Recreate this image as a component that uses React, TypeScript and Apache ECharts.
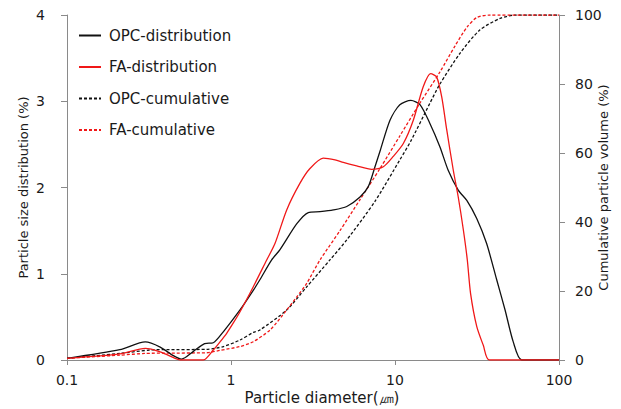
import React, { useEffect, useRef } from "react";
import * as echarts from "echarts";

// Particle diameters (µm) and readings for each curve
const opcDistD = [0.1, 0.21, 0.3, 0.37, 0.445, 0.5, 0.59, 0.69, 0.78, 0.9, 1.135, 1.37, 1.5, 1.77, 1.99, 2.52, 2.96, 3.49, 4.21, 5.08, 6.12, 6.87, 7.55, 8.1, 9.32, 10.7, 12.5, 14.2, 16.35, 18.8, 21.1, 24.3, 27.4, 31.5, 36.2, 41.7, 46.9, 52.6, 59.3, 100];
const opcDistV = [0.02, 0.12, 0.21, 0.15, 0.05, 0.01, 0.1, 0.19, 0.2, 0.33, 0.58, 0.81, 0.93, 1.16, 1.28, 1.58, 1.71, 1.72, 1.74, 1.78, 1.89, 2.01, 2.24, 2.42, 2.78, 2.96, 3.01, 2.96, 2.74, 2.47, 2.2, 1.97, 1.85, 1.64, 1.35, 0.93, 0.58, 0.21, 0, 0];

const faDistD = [0.1, 0.21, 0.3, 0.37, 0.456, 0.49, 0.678, 0.78, 0.857, 0.941, 1.033, 1.135, 1.368, 1.651, 1.854, 2.186, 2.635, 3.03, 3.65, 4.31, 4.84, 5.84, 7.21, 8.49, 9.76, 11.24, 12.93, 14.88, 16.5, 17.96, 19.27, 20.67, 22.67, 24.3, 26.1, 27.6, 28.9, 31.5, 34.55, 37.6, 100];
const faDistV = [0.02, 0.07, 0.135, 0.095, 0.02, 0, 0, 0.116, 0.21, 0.31, 0.43, 0.56, 0.85, 1.16, 1.35, 1.74, 2.05, 2.22, 2.34, 2.32, 2.29, 2.25, 2.21, 2.24, 2.36, 2.51, 2.78, 3.17, 3.32, 3.28, 3.05, 2.67, 2.2, 1.89, 1.51, 1.16, 0.77, 0.39, 0.17, 0, 0];

const opcCumD = [0.1, 0.21, 0.32, 0.39, 0.71, 0.9, 1.135, 1.368, 1.5, 2.186, 2.894, 4.01, 5.08, 7.55, 10.7, 12.5, 16.35, 18.8, 24.9, 33, 43.7, 53.9, 100];
const opcCumV = [0.5, 1.9, 2.9, 3.0, 3.1, 3.9, 5.8, 8.0, 8.7, 14.5, 21.2, 29, 34.8, 46, 58, 63.5, 74.5, 80, 88.9, 95.7, 99, 100, 100];

const faCumD = [0.1, 0.21, 0.3, 0.4, 0.71, 0.857, 1.135, 1.368, 1.73, 2.186, 2.52, 2.894, 3.49, 4.62, 6.12, 8.1, 10.72, 14.2, 18.8, 23.2, 27.5, 31.6, 37.9, 100];
const faCumV = [0.5, 1.4, 1.9, 2.0, 2.1, 2.8, 3.9, 5.3, 8.7, 14.5, 18.3, 22.2, 29, 37.5, 46.5, 55.5, 65, 74.5, 83.5, 91, 96.5, 99.3, 100, 100];

const seriesNames = ["OPC-distribution", "FA-distribution", "OPC-cumulative", "FA-cumulative"];
const xTicks = [0.1, 1, 10, 100];

const zip = (xs: number[], ys: number[]) => xs.map((x, i) => [x, ys[i]]);

export default function App() {
  const ref = useRef<HTMLDivElement>(null);

  useEffect(() => {
    const chart = echarts.init(ref.current!, null, { renderer: "svg" });
    const font = "DejaVu Sans";
    const axisColor = "#8a8a8a";
    const textColor = "#1a1a1a";
    const black = "#111111";
    const red = "#f01818";

    const lineSeries = (name: string, data: number[][], color: string, dashed: boolean, yIdx: number) => ({
      name,
      type: "line",
      data,
      yAxisIndex: yIdx,
      showSymbol: false,
      symbol: "none",
      smooth: 0.25,
      lineStyle: { color, width: 1.3, type: dashed ? [3, 2] : "solid" },
      itemStyle: { color },
      z: dashed ? 2 : 3,
    });

    chart.setOption({
      animation: false,
      textStyle: { fontFamily: font },
      grid: { left: 67, right: 62, top: 15, bottom: 49, outerBoundsMode: "none", containLabel: false },
      legend: {
        orient: "vertical",
        left: 78,
        top: 28,
        padding: 0,
        itemWidth: 22,
        itemHeight: 14,
        itemGap: 16.5,
        data: seriesNames,
        itemStyle: { opacity: 0 },
        textStyle: { fontFamily: font, fontSize: 15, color: textColor, padding: [0, 0, 0, 3] },
      },
      xAxis: {
        type: "log",
        logBase: 10,
        min: xTicks[0],
        max: xTicks[xTicks.length - 1],
        name: "Particle diameter(㎛)",
        nameLocation: "middle",
        nameGap: 30,
        nameMoveOverlap: false,
        nameTextStyle: { fontFamily: font, fontSize: 15, color: textColor, padding: [0, 0, 0, 18] },
        axisLine: { show: true, lineStyle: { color: axisColor, width: 1 } },
        axisTick: { show: true, length: 5, lineStyle: { color: axisColor } },
        minorTick: { show: false },
        splitLine: { show: false },
        axisLabel: {
          margin: 13,
          fontSize: 14,
          color: textColor,
          fontFamily: font,
          formatter: (v: number) => (v < 1 ? v.toFixed(1) : String(Math.round(v))),
        },
      },
      yAxis: [
        {
          type: "value",
          min: 0,
          max: 4,
          interval: 1,
          name: "Particle size distribution (%)",
          nameLocation: "middle",
          nameGap: 37,
          nameMoveOverlap: false,
          nameTextStyle: { fontFamily: font, fontSize: 13, color: textColor },
          axisLine: { show: true, lineStyle: { color: axisColor, width: 1 } },
          axisTick: { show: true, length: 6, lineStyle: { color: axisColor } },
          splitLine: { show: false },
          axisLabel: { margin: 22, fontSize: 14, color: textColor, fontFamily: font },
        },
        {
          type: "value",
          min: 0,
          max: 100,
          interval: 20,
          position: "right",
          name: "Cumulative particle volume (%)",
          nameLocation: "middle",
          nameGap: 38,
          nameMoveOverlap: false,
          nameTextStyle: { fontFamily: font, fontSize: 13, color: textColor },
          axisLine: { show: true, lineStyle: { color: axisColor, width: 1 } },
          axisTick: { show: true, length: 6, lineStyle: { color: axisColor } },
          splitLine: { show: false },
          axisLabel: { margin: 16, fontSize: 14, color: textColor, fontFamily: font },
        },
      ],
      series: [
        lineSeries(seriesNames[0], zip(opcDistD, opcDistV), black, false, 0),
        lineSeries(seriesNames[1], zip(faDistD, faDistV), red, false, 0),
        lineSeries(seriesNames[2], zip(opcCumD, opcCumV), black, true, 1),
        lineSeries(seriesNames[3], zip(faCumD, faCumV), red, true, 1),
      ],
    });

    return () => chart.dispose();
  }, []);

  return (
    <div
      ref={ref}
      style={{ position: "fixed", left: 0, top: 0, width: 621, height: 409, background: "#fff" }}
    />
  );
}
